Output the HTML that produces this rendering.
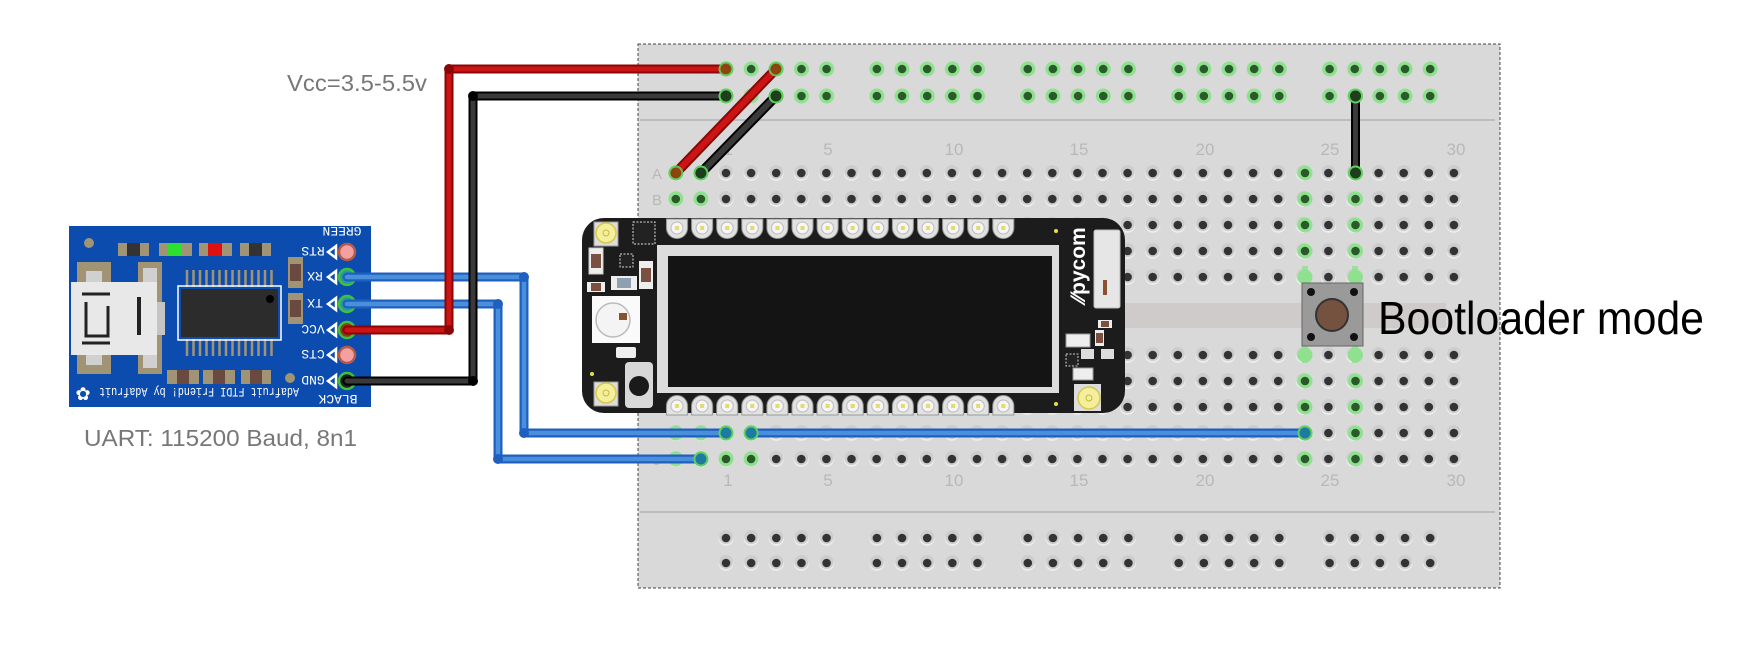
<!DOCTYPE html>
<html><head><meta charset="utf-8"><style>html,body{margin:0;padding:0;background:#fff}svg{display:block}</style></head>
<body>
<svg xmlns="http://www.w3.org/2000/svg" width="1737" height="648" viewBox="0 0 1737 648">
<defs>
<pattern id="hg" patternUnits="userSpaceOnUse" x="663.25" y="160" width="25.1" height="26">
<circle cx="12.55" cy="13.5" r="7.5" fill="#ececec"/><circle cx="12.55" cy="12" r="7" fill="#cdcdcd"/><circle cx="12.55" cy="13" r="4.3" fill="#333"/></pattern>
<pattern id="hg2" patternUnits="userSpaceOnUse" x="663.25" y="342" width="25.1" height="26">
<circle cx="12.55" cy="13.5" r="7.5" fill="#ececec"/><circle cx="12.55" cy="12" r="7" fill="#cdcdcd"/><circle cx="12.55" cy="13" r="4.3" fill="#333"/></pattern>
<pattern id="rg" patternUnits="userSpaceOnUse" x="713.4" y="56" width="25.15" height="27">
<circle cx="12.6" cy="13" r="7.5" fill="#8fe08f"/><circle cx="12.6" cy="13" r="4.3" fill="#2a5a2a"/></pattern>
<pattern id="rb" patternUnits="userSpaceOnUse" x="713.4" y="525" width="25.15" height="25">
<circle cx="12.6" cy="13.5" r="7.5" fill="#ececec"/><circle cx="12.6" cy="12" r="7" fill="#cdcdcd"/><circle cx="12.6" cy="13" r="4.3" fill="#333"/></pattern>
<pattern id="pt" patternUnits="userSpaceOnUse" x="664.5" y="0" width="25.1" height="648">
<path d="M2,219 h21 v9 a10.5,10.5 0 0 1 -21,0 z" fill="#e2e2e2" stroke="#999" stroke-width="1"/>
<circle cx="12.5" cy="228" r="6" fill="#f6f6f6" stroke="#bbb"/><rect x="10.5" y="226" width="4" height="4" fill="#e8d870"/>
<path d="M2,415 h21 v-9 a10.5,10.5 0 0 0 -21,0 z" fill="#e2e2e2" stroke="#999" stroke-width="1"/>
<circle cx="12.5" cy="406" r="6" fill="#f6f6f6" stroke="#bbb"/><rect x="10.5" y="404" width="4" height="4" fill="#e8d870"/>
</pattern>
</defs>

<!-- breadboard -->
<rect x="638" y="44" width="862" height="544" fill="#d9d9d9" stroke="#444" stroke-width="1" stroke-dasharray="3,2"/>
<line x1="640" y1="120" x2="1495" y2="120" stroke="#bdbdbd" stroke-width="2"/>
<line x1="640" y1="512" x2="1495" y2="512" stroke="#bdbdbd" stroke-width="2"/>
<rect x="640" y="303" width="806" height="25" fill="#cfcbcb"/>
<!-- rails -->
<g>
<rect x="713.4" y="56" width="125.75" height="54" fill="url(#rg)"/>
<rect x="864.3" y="56" width="125.75" height="54" fill="url(#rg)"/>
<rect x="1015.2" y="56" width="125.75" height="54" fill="url(#rg)"/>
<rect x="1166.1" y="56" width="125.75" height="54" fill="url(#rg)"/>
<rect x="1317" y="56" width="125.75" height="54" fill="url(#rg)"/>
<rect x="713.4" y="525" width="125.75" height="50" fill="url(#rb)"/>
<rect x="864.3" y="525" width="125.75" height="50" fill="url(#rb)"/>
<rect x="1015.2" y="525" width="125.75" height="50" fill="url(#rb)"/>
<rect x="1166.1" y="525" width="125.75" height="50" fill="url(#rb)"/>
<rect x="1317" y="525" width="125.75" height="50" fill="url(#rb)"/>
</g>
<rect x="663.25" y="160" width="803.2" height="130" fill="url(#hg)"/>
<rect x="663.25" y="342" width="803.2" height="130" fill="url(#hg2)"/>
<!-- labels -->
<g font-family="Liberation Sans Narrow, Liberation Sans, sans-serif" font-size="17" fill="#b8b8b8" text-anchor="middle">
<text x="728" y="155">1</text><text x="828" y="155">5</text><text x="954" y="155">10</text><text x="1079" y="155">15</text><text x="1205" y="155">20</text><text x="1330" y="155">25</text><text x="1456" y="155">30</text>
<text x="728" y="486">1</text><text x="828" y="486">5</text><text x="954" y="486">10</text><text x="1079" y="486">15</text><text x="1205" y="486">20</text><text x="1330" y="486">25</text><text x="1456" y="486">30</text>
<text x="657" y="179" font-size="15">A</text><text x="657" y="205" font-size="15">B</text><text x="657" y="465" font-size="15">J</text>
</g>
<!-- green holes -->
<g>
<g fill="#8fe08f">
<circle cx="675.8" cy="173" r="7.5"/><circle cx="700.9" cy="173" r="7.5"/><circle cx="675.8" cy="199" r="7.5"/><circle cx="700.9" cy="199" r="7.5"/>
<circle cx="675.8" cy="433" r="7.5"/><circle cx="700.9" cy="433" r="7.5"/><circle cx="726" cy="433" r="7.5"/><circle cx="751.1" cy="433" r="7.5"/>
<circle cx="675.8" cy="459" r="7.5"/><circle cx="700.9" cy="459" r="7.5"/><circle cx="726" cy="459" r="7.5"/><circle cx="751.1" cy="459" r="7.5"/>
</g>
<g fill="#2a5a2a">
<circle cx="675.8" cy="199" r="4.3"/><circle cx="700.9" cy="199" r="4.3"/><circle cx="726" cy="459" r="4.3"/><circle cx="751.1" cy="459" r="4.3"/>
</g>
<g id="c24" fill="#8fe08f">
<circle cx="1305" cy="173" r="7.5"/><circle cx="1305" cy="199" r="7.5"/><circle cx="1305" cy="225" r="7.5"/><circle cx="1305" cy="251" r="7.5"/><circle cx="1305" cy="277" r="7.5"/>
<circle cx="1305" cy="355" r="7.5"/><circle cx="1305" cy="381" r="7.5"/><circle cx="1305" cy="407" r="7.5"/><circle cx="1305" cy="433" r="7.5"/><circle cx="1305" cy="459" r="7.5"/>
<circle cx="1355.5" cy="173" r="7.5"/><circle cx="1355.5" cy="199" r="7.5"/><circle cx="1355.5" cy="225" r="7.5"/><circle cx="1355.5" cy="251" r="7.5"/><circle cx="1355.5" cy="277" r="7.5"/>
<circle cx="1355.5" cy="355" r="7.5"/><circle cx="1355.5" cy="381" r="7.5"/><circle cx="1355.5" cy="407" r="7.5"/><circle cx="1355.5" cy="433" r="7.5"/><circle cx="1355.5" cy="459" r="7.5"/>
</g>
<g fill="#2a5a2a">
<circle cx="1305" cy="173" r="4.3"/><circle cx="1305" cy="199" r="4.3"/><circle cx="1305" cy="225" r="4.3"/><circle cx="1305" cy="251" r="4.3"/>
<circle cx="1305" cy="381" r="4.3"/><circle cx="1305" cy="407" r="4.3"/><circle cx="1305" cy="459" r="4.3"/>
<circle cx="1355.5" cy="199" r="4.3"/><circle cx="1355.5" cy="225" r="4.3"/><circle cx="1355.5" cy="251" r="4.3"/>
<circle cx="1355.5" cy="381" r="4.3"/><circle cx="1355.5" cy="407" r="4.3"/><circle cx="1355.5" cy="433" r="4.3"/><circle cx="1355.5" cy="459" r="4.3"/>
</g>
</g>

<!-- pycom board -->
<rect x="582" y="218" width="543" height="195" rx="22" fill="#1c1c1c"/>
<rect x="664.5" y="218" width="351.4" height="200" fill="url(#pt)"/>
<rect x="657" y="245" width="402" height="148" fill="#dcdcdc"/>
<rect x="668" y="256" width="384" height="131" fill="#141414"/>
<!-- left components -->
<rect x="594" y="222" width="24" height="24" fill="#ddd" stroke="#999"/><circle cx="606" cy="233" r="10" fill="#f3ef9c" stroke="#d8c84a" stroke-width="1.5"/><circle cx="606" cy="233" r="3" fill="none" stroke="#c8b840"/>
<rect x="594" y="382" width="24" height="24" fill="#ddd" stroke="#999"/><circle cx="606" cy="393" r="10" fill="#f3ef9c" stroke="#d8c84a" stroke-width="1.5"/><circle cx="606" cy="393" r="3" fill="none" stroke="#c8b840"/>
<rect x="633" y="222" width="22" height="22" fill="#222" stroke="#ddd" stroke-dasharray="2,1.5"/>
<rect x="620" y="254" width="13" height="13" fill="#222" stroke="#ddd" stroke-dasharray="2,1.5"/>
<rect x="589" y="248" width="14" height="26" fill="#eee" stroke="#ccc"/><rect x="591" y="254" width="10" height="14" fill="#7a5040"/>
<rect x="587" y="282" width="18" height="10" fill="#eee"/><rect x="591" y="283" width="10" height="8" fill="#7a5040"/>
<rect x="611" y="276" width="26" height="14" fill="#eee"/><rect x="617" y="278" width="14" height="10" fill="#8fa0b0"/>
<rect x="639" y="261" width="14" height="28" fill="#eee"/><rect x="641" y="268" width="10" height="14" fill="#7a5040"/>
<rect x="592" y="296" width="48" height="47" fill="#fafafa"/><circle cx="613" cy="320" r="17" fill="#f4f4f4" stroke="#bbb" stroke-width="1.5"/><rect x="619" y="313" width="8" height="7" fill="#8a5030"/>
<rect x="616" y="347" width="20" height="11" fill="#eee" rx="2"/>
<rect x="625" y="362" width="28" height="46" rx="4" fill="#d8d8d8"/><circle cx="639" cy="386" r="10" fill="#1a1a1a"/>
<circle cx="592" cy="374" r="2" fill="#e8e040"/><circle cx="1056" cy="231" r="2" fill="#e8e040"/><circle cx="1056" cy="404" r="2" fill="#e8e040"/>
<!-- right components -->
<text transform="translate(1085,302) rotate(-90)" font-family="Liberation Sans, sans-serif" font-weight="bold" font-size="21" fill="#fff">⁄⁄pycom</text>
<rect x="1094" y="230" width="26" height="78" rx="2" fill="#e6e6e6" stroke="#bbb"/><rect x="1103" y="280" width="4" height="15" fill="#8a5030"/>
<rect x="1098" y="320" width="14" height="8" fill="#eee"/><rect x="1101" y="321" width="8" height="6" fill="#7a5040"/>
<rect x="1095" y="330" width="9" height="16" fill="#eee"/><rect x="1096" y="333" width="7" height="10" fill="#7a5040"/>
<rect x="1066" y="334" width="24" height="13" fill="#eee" stroke="#999"/>
<rect x="1081" y="349" width="13" height="10" fill="#ddd"/><rect x="1101" y="349" width="13" height="10" fill="#ddd"/>
<rect x="1066" y="354" width="12" height="12" fill="#222" stroke="#ccc" stroke-dasharray="2,1.5"/>
<rect x="1073" y="368" width="20" height="12" fill="#eee" stroke="#999"/>
<rect x="1074" y="384" width="27" height="27" fill="#ddd"/><circle cx="1089" cy="398" r="11" fill="#f3ef9c" stroke="#d8c84a" stroke-width="1.5"/><circle cx="1089" cy="398" r="3" fill="none" stroke="#c8b840"/>

<!-- button -->
<rect x="1302" y="266" width="6" height="20" fill="#8fe08f" opacity=".8"/><rect x="1352" y="266" width="6" height="20" fill="#8fe08f" opacity=".8"/>
<rect x="1302" y="343" width="6" height="20" fill="#8fe08f" opacity=".8"/><rect x="1352" y="343" width="6" height="20" fill="#8fe08f" opacity=".8"/>
<rect x="1302" y="283" width="61" height="63" fill="#9a9a9a" stroke="#666"/>
<circle cx="1311" cy="292" r="4" fill="#111"/><circle cx="1354" cy="292" r="4" fill="#111"/><circle cx="1311" cy="337" r="4" fill="#111"/><circle cx="1354" cy="337" r="4" fill="#111"/>
<circle cx="1332" cy="315" r="16" fill="#75513f" stroke="#333" stroke-width="2"/>
<text x="1378" y="334" font-family="Liberation Sans, sans-serif" font-size="46" fill="#000" textLength="326" lengthAdjust="spacingAndGlyphs">Bootloader mode</text>

<!-- FTDI board -->
<rect x="69" y="226" width="302" height="181" fill="#0b4cae"/>
<rect x="77" y="262" width="34" height="112" fill="#a09474"/><rect x="86" y="271" width="16" height="94" fill="#d0d0d0"/>
<rect x="138" y="262" width="24" height="112" fill="#a09474"/><rect x="143" y="268" width="14" height="100" fill="#d0d0d0"/>
<rect x="71" y="282" width="86" height="73" fill="#e8e8e8"/>
<rect x="157" y="302" width="8" height="33" fill="#c4c4c4"/>
<path d="M82,294 h28 M82,343 h28 M86,302 v34 h22 v-30" stroke="#222" stroke-width="3" fill="none"/>
<rect x="137" y="297" width="4" height="38" fill="#222"/>
<circle cx="89" cy="243" r="5" fill="#a09474"/><circle cx="290" cy="378" r="5" fill="#a09474"/>
<g fill="#a09474">
<rect x="118" y="243" width="31" height="13"/><rect x="159" y="243" width="33" height="13"/><rect x="199" y="243" width="33" height="13"/><rect x="240" y="243" width="31" height="13"/>
<rect x="167" y="370" width="32" height="14"/><rect x="203" y="370" width="32" height="14"/><rect x="241" y="370" width="30" height="14"/>
<rect x="288" y="257" width="15" height="31"/><rect x="288" y="293" width="15" height="31"/>
</g>
<rect x="127" y="243" width="13" height="13" fill="#333"/><rect x="168" y="243" width="14" height="13" fill="#2ee02e"/><rect x="208" y="243" width="14" height="13" fill="#e01010"/><rect x="249" y="243" width="13" height="13" fill="#333"/>
<rect x="177" y="370" width="12" height="14" fill="#6a4a40"/><rect x="213" y="370" width="12" height="14" fill="#6a4a40"/><rect x="250" y="370" width="12" height="14" fill="#6a4a40"/>
<rect x="290" y="264" width="11" height="17" fill="#6a4a40"/><rect x="290" y="300" width="11" height="17" fill="#6a4a40"/>
<g stroke="#a09474" stroke-width="2.5">
<path d="M187,270v17M193.5,270v17M200,270v17M206.5,270v17M213,270v17M219.5,270v17M226,270v17M232.5,270v17M239,270v17M245.5,270v17M252,270v17M258.5,270v17M265,270v17M271.5,270v17"/>
<path d="M187,339v17M193.5,339v17M200,339v17M206.5,339v17M213,339v17M219.5,339v17M226,339v17M232.5,339v17M239,339v17M245.5,339v17M252,339v17M258.5,339v17M265,339v17M271.5,339v17"/>
</g>
<rect x="178" y="286" width="103" height="54" fill="none" stroke="#fff" stroke-width="1.5"/>
<rect x="181" y="289" width="97" height="48" fill="#2c2c2c"/><circle cx="270" cy="299" r="4" fill="#000"/>
<!-- pins -->
<circle cx="347" cy="252" r="8" fill="#f4a0a0" stroke="#b45a4a" stroke-width="2.5"/>
<circle cx="347" cy="277" r="8" fill="#2a9aa0" stroke="#3cc23c" stroke-width="2.5"/>
<circle cx="347" cy="304" r="8" fill="#2a9aa0" stroke="#3cc23c" stroke-width="2.5"/>
<circle cx="347" cy="330" r="8" fill="#8a3a10" stroke="#3cc23c" stroke-width="2.5"/>
<circle cx="347" cy="355" r="8" fill="#f4a0a0" stroke="#b45a4a" stroke-width="2.5"/>
<circle cx="347" cy="381" r="8" fill="#222" stroke="#3cc23c" stroke-width="2.5"/>
<g fill="none" stroke="#fff" stroke-width="2.5">
<path d="M336,246 l-8,6 l8,6z"/><path d="M336,271 l-8,6 l8,6z"/><path d="M336,298 l-8,6 l8,6z"/><path d="M336,324 l-8,6 l8,6z"/><path d="M336,349 l-8,6 l8,6z"/><path d="M336,375 l-8,6 l8,6z"/>
</g>
<g font-family="Liberation Mono, monospace" font-size="13" fill="#fff" text-anchor="middle">
<text transform="rotate(180,313,252)" x="313" y="257">RTS</text>
<text transform="rotate(180,315,277)" x="315" y="282">RX</text>
<text transform="rotate(180,315,304)" x="315" y="309">TX</text>
<text transform="rotate(180,313,330)" x="313" y="335">VCC</text>
<text transform="rotate(180,313,355)" x="313" y="360">CTS</text>
<text transform="rotate(180,313,381)" x="313" y="386">GND</text>
<text transform="rotate(180,342,232)" x="342" y="237">GREEN</text>
<text transform="rotate(180,338,400)" x="338" y="405">BLACK</text>
<text transform="rotate(180,199,393)" x="199" y="398" textLength="200" lengthAdjust="spacingAndGlyphs">Adafruit FTDI Friend! by Adafruit</text>
</g>
<text x="83" y="400" font-size="18" fill="#fff" text-anchor="middle">✿</text>

<!-- wires -->
<g fill="none" stroke-linejoin="round" stroke-linecap="round">
<polyline points="347,277 524,277 524,433 726,433" stroke="#1f5fbf" stroke-width="9"/>
<polyline points="347,277 524,277 524,433 726,433" stroke="#4a8fdc" stroke-width="4.5"/>
<polyline points="347,304 498,304 498,459 700.9,459" stroke="#1f5fbf" stroke-width="9"/>
<polyline points="347,304 498,304 498,459 700.9,459" stroke="#4a8fdc" stroke-width="4.5"/>
<polyline points="751.1,433 1305,433" stroke="#1f5fbf" stroke-width="9"/>
<polyline points="751.1,433 1305,433" stroke="#4a8fdc" stroke-width="4.5"/>
<polyline points="347,330 449,330 449,69 726,69" stroke="#8a0606" stroke-width="9"/>
<polyline points="347,330 449,330 449,69 726,69" stroke="#cc1414" stroke-width="5"/>
<polyline points="347,381 473,381 473,96 726,96" stroke="#000" stroke-width="9"/>
<polyline points="347,381 473,381 473,96 726,96" stroke="#3a3a3a" stroke-width="5"/>
<line x1="776" y1="69" x2="675.8" y2="173" stroke="#8a0606" stroke-width="10"/>
<line x1="776" y1="69" x2="675.8" y2="173" stroke="#cc1414" stroke-width="6"/>
<line x1="776" y1="96" x2="700.9" y2="173" stroke="#000" stroke-width="10"/>
<line x1="776" y1="96" x2="700.9" y2="173" stroke="#3a3a3a" stroke-width="6"/>
<line x1="1355.5" y1="96" x2="1355.5" y2="173" stroke="#000" stroke-width="9"/>
<line x1="1355.5" y1="96" x2="1355.5" y2="173" stroke="#3a3a3a" stroke-width="5"/>
</g>
<g>
<circle cx="726" cy="69" r="6.5" fill="#8a4a10" stroke="#5fd05f" stroke-width="2" opacity=".9"/>
<circle cx="776" cy="69" r="6.5" fill="#8a4a10" stroke="#5fd05f" stroke-width="2" opacity=".9"/>
<circle cx="675.8" cy="173" r="6.5" fill="#8a4a10" stroke="#5fd05f" stroke-width="2" opacity=".9"/>
<circle cx="726" cy="96" r="6.5" fill="#1e3e1e" stroke="#5fd05f" stroke-width="2"/>
<circle cx="776" cy="96" r="6.5" fill="#1e3e1e" stroke="#5fd05f" stroke-width="2"/>
<circle cx="700.9" cy="173" r="6.5" fill="#1e3e1e" stroke="#5fd05f" stroke-width="2"/>
<circle cx="1355.5" cy="96" r="6.5" fill="#1e3e1e" stroke="#5fd05f" stroke-width="2"/>
<circle cx="1355.5" cy="173" r="6.5" fill="#1e3e1e" stroke="#5fd05f" stroke-width="2"/>
<circle cx="726" cy="433" r="6.5" fill="#1e7aa0" stroke="#5fd05f" stroke-width="2"/>
<circle cx="751.1" cy="433" r="6.5" fill="#1e7aa0" stroke="#5fd05f" stroke-width="2"/>
<circle cx="1305" cy="433" r="6.5" fill="#1e7aa0" stroke="#5fd05f" stroke-width="2"/>
<circle cx="700.9" cy="459" r="6.5" fill="#1e7aa0" stroke="#5fd05f" stroke-width="2"/>
<circle cx="449" cy="69" r="5" fill="#8a0606"/><circle cx="449" cy="330" r="5" fill="#8a0606"/>
<circle cx="473" cy="96" r="5" fill="#000"/><circle cx="473" cy="381" r="5" fill="#000"/>
<circle cx="524" cy="277" r="5" fill="#1f5fbf"/><circle cx="524" cy="433" r="5" fill="#1f5fbf"/>
<circle cx="498" cy="304" r="5" fill="#1f5fbf"/><circle cx="498" cy="459" r="5" fill="#1f5fbf"/>
</g>

<!-- texts -->
<text x="427" y="91" text-anchor="end" font-family="Liberation Sans Narrow, Liberation Sans, sans-serif" font-size="23" fill="#777" textLength="140" lengthAdjust="spacingAndGlyphs">Vcc=3.5-5.5v</text>
<text x="84" y="446" font-family="Liberation Sans Narrow, Liberation Sans, sans-serif" font-size="23" fill="#777" textLength="273" lengthAdjust="spacingAndGlyphs">UART: 115200 Baud, 8n1</text>
</svg>
</body></html>
